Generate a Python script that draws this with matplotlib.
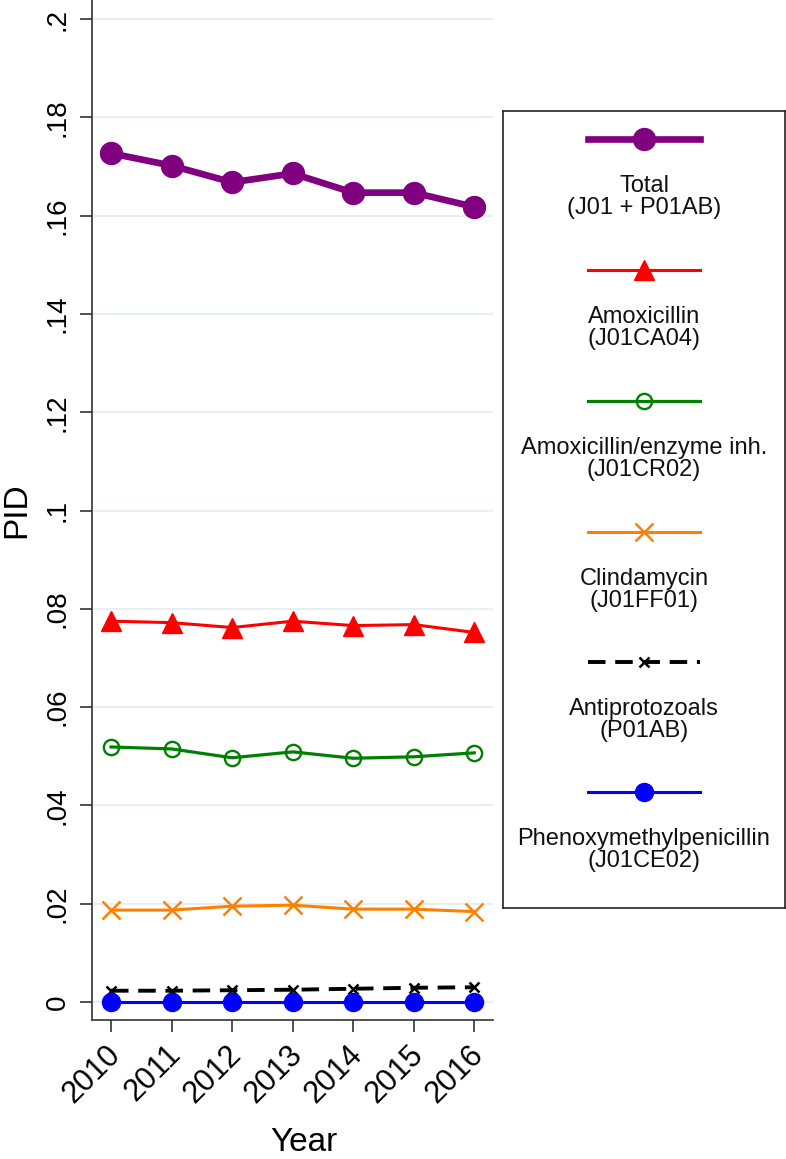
import matplotlib
matplotlib.use("Agg")
import matplotlib.pyplot as plt
from matplotlib.lines import Line2D
from matplotlib.transforms import ScaledTranslation

plt.rcParams['font.family'] = ['Liberation Sans', 'DejaVu Sans']

years = [2010, 2011, 2012, 2013, 2014, 2015, 2016]
total = [0.1727, 0.1702, 0.1668, 0.1686, 0.1647, 0.1647, 0.1618]
amoxicillin = [0.0775, 0.0772, 0.0762, 0.0775, 0.0766, 0.0768, 0.0752]
amox_enzyme = [0.0519, 0.0515, 0.0497, 0.0509, 0.0496, 0.0499, 0.0507]
clindamycin = [0.0187, 0.0187, 0.0195, 0.0197, 0.0189, 0.0189, 0.0184]
antiprotozoals = [0.0023, 0.0023, 0.0024, 0.0025, 0.0027, 0.0029, 0.0030]
phenoxy = [0.0001, 0.0001, 0.0001, 0.0001, 0.0001, 0.0001, 0.0001]

labels = ["Total\n(J01 + P01AB)", "Amoxicillin\n(J01CA04)",
          "Amoxicillin/enzyme inh.\n(J01CR02)", "Clindamycin\n(J01FF01)",
          "Antiprotozoals\n(P01AB)", "Phenoxymethylpenicillin\n(J01CE02)"]
yticks = [0, 0.02, 0.04, 0.06, 0.08, 0.1, 0.12, 0.14, 0.16, 0.18, 0.2]
yticklabels = ["0", ".02", ".04", ".06", ".08", ".1", ".12", ".14", ".16", ".18", ".2"]

styles = [
    dict(color="#800080", lw=4.8, marker="o", ms=15.8, mfc="#800080", mec="#800080", ls="-"),
    dict(color="#ff0000", lw=2.2, marker="^", ms=14, mfc="#ff0000", mec="#ff0000", ls="-"),
    dict(color="#008000", lw=2.3, marker="o", ms=11, mfc="none", mec="#008000", mew=1.7, ls="-"),
    dict(color="#ff8000", lw=2.2, marker="x", ms=13, mec="#ff8000", mew=1.8, ls="-"),
    dict(color="#000000", lw=2.8, marker="x", ms=7.5, mec="#000000", mew=1.8, ls=(0, (4.5, 2.5))),
    dict(color="#0000ff", lw=2.2, marker="o", ms=13, mfc="#0000ff", mec="#0000ff", ls="-"),
]
series = [total, amoxicillin, amox_enzyme, clindamycin, antiprotozoals, phenoxy]

W, H = 786, 1159
fig = plt.figure(figsize=(W / 100, H / 100), dpi=100)
ax = fig.add_axes([92 / W, (H - 1020) / H, (493 - 92) / W, 1020 / H])

for ys, st in zip(series, styles):
    ax.plot(years, ys, zorder=3, clip_on=False, **st)

ax.set_xlim(2009.686, 2016.31)
ax.set_ylim(-0.00366, 0.2039)
ax.tick_params(axis="both", direction="out", length=8.5, width=1.2, color="#333333")
ax.tick_params(axis="y", pad=7)
ax.tick_params(axis="x", pad=13)
ax.set_yticks(yticks)
ax.set_yticklabels(yticklabels, rotation=90, va="center", fontsize=20)
ax.set_xticks(years)
ax.set_xticklabels([str(y) for y in years], rotation=45, ha="right", va="center",
                   rotation_mode="anchor", fontsize=22)
off = ScaledTranslation(5 / 100, 0, fig.dpi_scale_trans)
for lab in ax.get_xticklabels():
    lab.set_transform(lab.get_transform() + off)
for s in ["top", "right"]:
    ax.spines[s].set_visible(False)
for s in ["left", "bottom"]:
    ax.spines[s].set_linewidth(1.2)
    ax.spines[s].set_color("#333333")
ax.yaxis.grid(True, color="#e6eff2", lw=1.5, zorder=0)
ax.set_axisbelow(True)
ax.set_ylabel("PID", fontsize=24)
ax.yaxis.set_label_coords(-0.1496, 0.5)
ax.set_xlabel("Year", fontsize=24)
ax.xaxis.set_label_coords(0.529, -0.105)

# legend box
lax = fig.add_axes([503 / W, (H - 908) / H, (785 - 503) / W, (908 - 111) / H])
lax.set_xlim(0, 282)
lax.set_ylim(797, 0)
lax.set_xticks([])
lax.set_yticks([])
for s in lax.spines.values():
    s.set_linewidth(1.2)
    s.set_color("#222222")
sample_y = [28, 159, 290, 421, 551, 681]
for sy, st, lab in zip(sample_y, styles, labels):
    lax.add_line(Line2D([85, 141, 197], [sy, sy, sy], markevery=[1], **st))
    lax.text(141, sy + 58, lab, ha="center", va="center", fontsize=17,
             linespacing=1.0, color="#111111")

fig.savefig("out.png", dpi=100)
